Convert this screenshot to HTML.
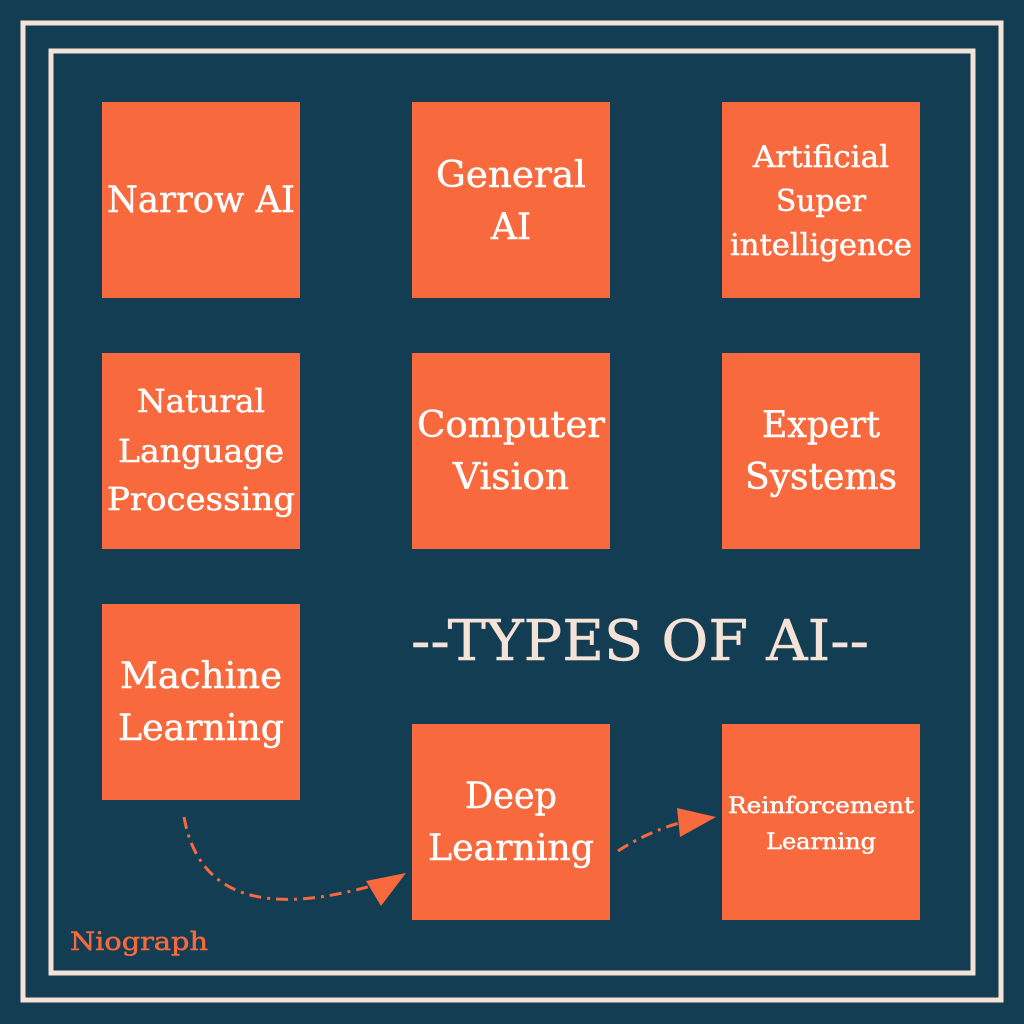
<!DOCTYPE html>
<html><head><meta charset="utf-8"><style>
html,body{margin:0;padding:0;background:#123d52;}
svg{display:block}
text{font-family:"DejaVu Serif","Liberation Serif",serif;fill:#fff;text-anchor:middle;stroke:#fff;stroke-width:0.5px}
.a{font-size:36px}
.b{font-size:30px}
.c{font-size:22px}
</style></head><body>
<svg width="1024" height="1024" viewBox="0 0 1024 1024">
<rect width="1024" height="1024" fill="#123d52"/>
<rect x="23" y="23" width="978" height="977" fill="none" stroke="#f6e3d8" stroke-width="5"/>
<rect x="51" y="51" width="922" height="922" fill="none" stroke="#f6e3d8" stroke-width="5"/>
<g fill="#f8693d">
<rect x="102" y="102" width="198" height="196"/>
<rect x="412" y="102" width="198" height="196"/>
<rect x="722" y="102" width="198" height="196"/>
<rect x="102" y="353" width="198" height="196"/>
<rect x="412" y="353" width="198" height="196"/>
<rect x="722" y="353" width="198" height="196"/>
<rect x="102" y="604" width="198" height="196"/>
<rect x="412" y="724" width="198" height="196"/>
<rect x="722" y="724" width="198" height="196"/>
</g>
<text class="a" x="201" y="212" textLength="188" lengthAdjust="spacingAndGlyphs">Narrow AI</text>
<text class="a" x="511" y="187" textLength="150" lengthAdjust="spacingAndGlyphs">General</text>
<text class="a" x="511" y="239">AI</text>
<text class="a" x="821" y="437" textLength="118" lengthAdjust="spacingAndGlyphs">Expert</text>
<text class="a" x="821" y="489" textLength="152" lengthAdjust="spacingAndGlyphs">Systems</text>
<text class="a" x="511" y="437" textLength="188" lengthAdjust="spacingAndGlyphs">Computer</text>
<text class="a" x="511" y="489" textLength="116" lengthAdjust="spacingAndGlyphs">Vision</text>
<text class="a" x="201" y="688" textLength="162" lengthAdjust="spacingAndGlyphs">Machine</text>
<text class="a" x="201" y="740" textLength="166" lengthAdjust="spacingAndGlyphs">Learning</text>
<text class="a" x="511" y="808" textLength="92" lengthAdjust="spacingAndGlyphs">Deep</text>
<text class="a" x="511" y="860" textLength="166" lengthAdjust="spacingAndGlyphs">Learning</text>
<text class="b" x="821" y="167" textLength="136" lengthAdjust="spacingAndGlyphs">Artificial</text>
<text class="b" x="821" y="211" textLength="90" lengthAdjust="spacingAndGlyphs">Super</text>
<text class="b" x="821" y="255" textLength="182" lengthAdjust="spacingAndGlyphs">intelligence</text>
<text class="b" x="201" y="412" style="font-size:32px" textLength="128" lengthAdjust="spacingAndGlyphs">Natural</text>
<text class="b" x="201" y="462" style="font-size:32px" textLength="166" lengthAdjust="spacingAndGlyphs">Language</text>
<text class="b" x="201" y="510" style="font-size:32px" textLength="188" lengthAdjust="spacingAndGlyphs">Processing</text>
<text class="c" x="821" y="813" textLength="186" lengthAdjust="spacingAndGlyphs">Reinforcement</text>
<text class="c" x="821" y="849" textLength="110" lengthAdjust="spacingAndGlyphs">Learning</text>
<text x="640" y="660" style="fill:#f6e3d8;stroke:#f6e3d8;font-size:56px" textLength="458" lengthAdjust="spacingAndGlyphs">--TYPES OF AI--</text>
<text x="139" y="950" style="fill:#f8693d;stroke:#f8693d;font-size:25px" textLength="138" lengthAdjust="spacingAndGlyphs">Niograph</text>
<g stroke="#f8693d" stroke-width="3" fill="none" stroke-dasharray="12 6 3 6">
<path d="M184 817 Q205 935 378 884"/>
<path d="M618 851 Q650 830 690 820"/>
</g>
<g fill="#f8693d">
<polygon points="406,873 366,881 381,906"/>
<polygon points="716,817 677,808 680,837"/>
</g>
</svg>
</body></html>
